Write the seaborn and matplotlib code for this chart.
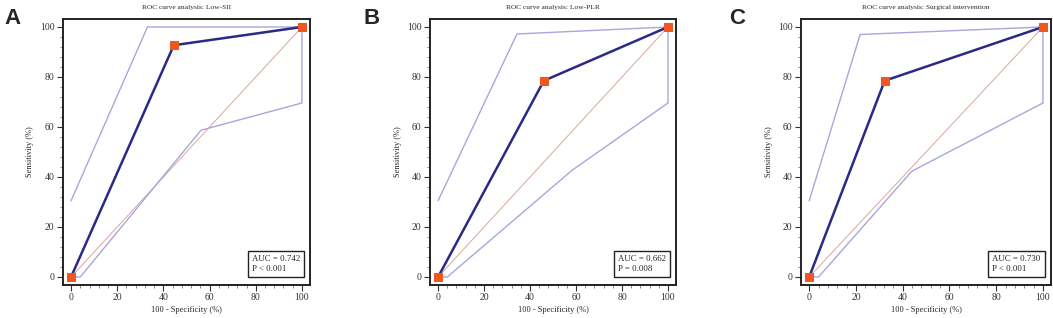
import numpy as np
import pandas as pd
import seaborn as sns
import matplotlib.pyplot as plt
from matplotlib.ticker import MultipleLocator

sns.set_style("ticks")
plt.rcParams['font.family'] = ['Liberation Serif', 'DejaVu Serif']

letters = ['A', 'B', 'C']
titles = ['ROC curve analysis: Low-SII',
          'ROC curve analysis: Low-PLR',
          'ROC curve analysis: Surgical intervention']
auc_text = ['AUC = 0.742\nP < 0.001',
            'AUC = 0.662\nP = 0.008',
            'AUC = 0.730\nP < 0.001']

# ROC points (100 - specificity, sensitivity)
roc_x = [[0, 44.5, 100], [0, 46.0, 100], [0, 32.3, 100]]
roc_y = [[0, 92.7, 100], [0, 78.5, 100], [0, 78.5, 100]]

# upper confidence bound
up_x = [[0, 33.1, 100], [0, 34.3, 100], [0, 21.8, 100]]
up_y = [[30.5, 100, 100], [30.5, 97.2, 100], [30.5, 97.0, 100]]

# lower confidence bound
lo_x = [[0, 4, 56.3, 100, 100], [0, 4, 58.3, 100, 100], [0, 4, 43.9, 100, 100]]
lo_y = [[0, 0, 58.7, 69.6, 100], [0, 0, 42.7, 69.6, 100], [0, 0, 42.3, 69.6, 100]]

diag = [0, 100]

fig = plt.figure(figsize=(10.53, 3.18), dpi=100)
lefts = [0.0598, 0.4084, 0.7607]
widths = [0.2346, 0.2336, 0.2375]
letter_x = [0.004, 0.345, 0.692]

for i in range(3):
    ax = fig.add_axes([lefts[i], 0.1038, widths[i], 0.8365])
    sns.lineplot(x=diag, y=diag, ax=ax, color='#d9a79c', lw=0.7, estimator=None)
    sns.lineplot(x=up_x[i], y=up_y[i], ax=ax, sort=False, estimator=None,
                 color='#a9a6dc', lw=1.0)
    sns.lineplot(x=lo_x[i], y=lo_y[i], ax=ax, sort=False, estimator=None,
                 color='#a9a6dc', lw=1.0)
    sns.lineplot(x=roc_x[i], y=roc_y[i], ax=ax, sort=False, estimator=None,
                 color='#2a2a86', lw=1.8, marker='s', markersize=5.5,
                 markerfacecolor='#f0561e', markeredgecolor='#f0561e')
    ax.set_xlim(-3.5, 103.5)
    ax.set_ylim(-3.2, 103.2)
    ax.xaxis.set_major_locator(MultipleLocator(20))
    ax.yaxis.set_major_locator(MultipleLocator(20))
    ax.xaxis.set_minor_locator(MultipleLocator(4))
    ax.yaxis.set_minor_locator(MultipleLocator(4))
    ax.tick_params(which='major', length=4, width=0.8, labelsize=7, pad=2, colors='#333333')
    ax.tick_params(which='minor', length=2, width=0.6, colors='#777777')
    for s in ax.spines.values():
        s.set_linewidth(1.4)
        s.set_color('#222222')
    ax.set_xlabel('100 - Specificity (%)', fontsize=6, labelpad=3)
    ax.set_ylabel('Sensitivity (%)', fontsize=6, labelpad=4)
    ax.set_title(titles[i], fontsize=5.4, pad=7)
    ax.text(0.765, 0.045, auc_text[i], transform=ax.transAxes, ha='left', va='bottom',
            fontsize=6.4, linespacing=1.3, multialignment='left',
            bbox=dict(boxstyle='square,pad=0.45', fc='white', ec='#222222', lw=1.0))
    fig.text(letter_x[i], 0.975, letters[i], fontsize=16, fontweight='bold',
             family='Liberation Sans', va='top')

fig.savefig('out.png', dpi=100)
